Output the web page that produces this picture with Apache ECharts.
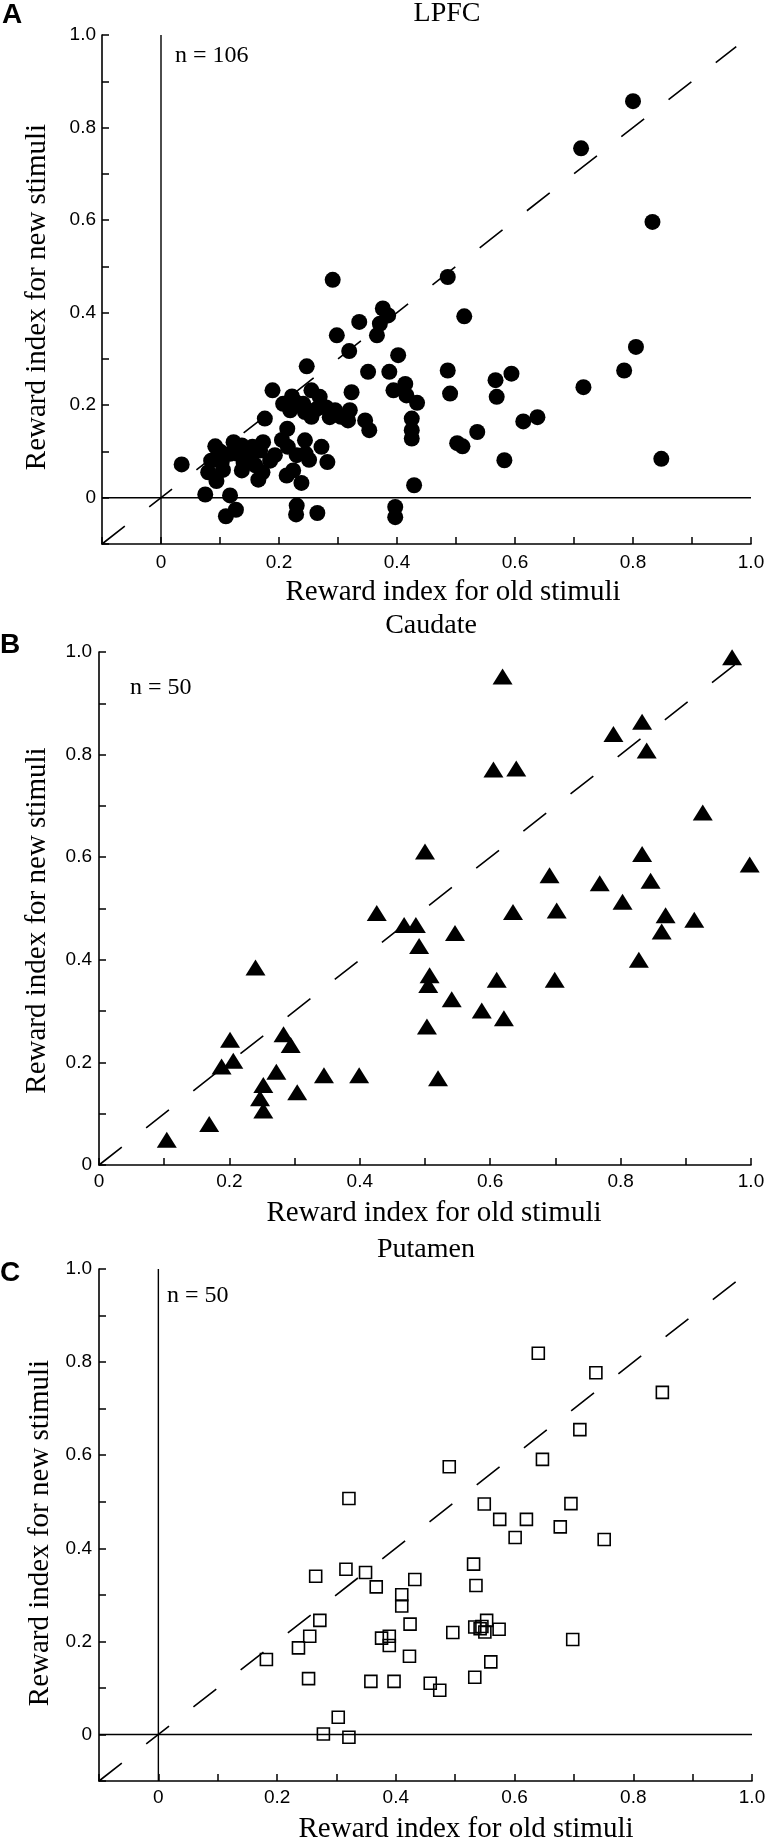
<!DOCTYPE html>
<html><head><meta charset="utf-8">
<script src="https://cdn.jsdelivr.net/npm/echarts@6/dist/echarts.min.js"></script>
<style>html,body{margin:0;padding:0;background:#fff}#c{width:766px;height:1843px}</style>
</head><body><div id="c"></div>
<script>
// ---- Panel A: LPFC (n = 106) ----
const lpfcOld = [0.035,0.075,0.110,0.127,0.117,0.094,0.080,0.092,0.092,0.103,0.123,0.137,0.117,0.137,0.151,0.165,0.172,0.173,0.168,0.193,
  0.176,0.189,0.205,0.214,0.213,0.224,0.238,0.230,0.244,0.251,0.272,0.282,0.230,0.229,0.265,0.247,0.207,0.222,0.219,0.241,
  0.255,0.269,0.244,0.264,0.286,0.295,0.320,0.323,0.317,0.346,0.353,0.298,0.319,0.336,0.376,0.385,0.371,0.366,0.351,0.402,
  0.387,0.394,0.414,0.416,0.434,0.425,0.425,0.425,0.429,0.397,0.397,0.486,0.490,
  0.291,0.486,0.712,0.800,0.833,
  0.514,0.502,0.511,0.536,0.582,0.567,0.569,0.594,0.614,0.638,0.716,0.785,0.805,0.848,
  0.100,0.085,0.130,0.105,0.155,0.160,0.185,0.215,0.245,0.280,0.305,0.255,0.230,0.140];
const lpfcNew = [0.072,0.007,-0.040,-0.026,0.005,0.036,0.055,0.111,0.084,0.077,0.120,0.113,0.095,0.059,0.088,0.039,0.055,0.120,0.102,0.092,
  0.171,0.232,0.125,0.149,0.048,0.059,0.032,0.092,0.124,0.082,0.110,0.077,-0.017,-0.036,-0.033,0.284,0.203,0.219,0.189,0.203,
  0.232,0.218,0.185,0.192,0.174,0.189,0.189,0.228,0.167,0.167,0.146,0.351,0.317,0.380,0.409,0.394,0.376,0.351,0.272,0.308,
  0.272,0.232,0.246,0.221,0.205,0.171,0.146,0.128,0.027,-0.020,-0.042,0.275,0.225,
  0.471,0.477,0.755,0.857,0.596,
  0.392,0.118,0.111,0.142,0.081,0.254,0.218,0.268,0.165,0.174,0.239,0.275,0.326,0.084,
  0.100,0.080,0.095,0.060,0.110,0.070,0.080,0.110,0.095,0.195,0.175,0.175,0.205,0.075];

// ---- Panel B: Caudate (n = 50) ----
const caudateOld = [0.104,0.169,0.188,0.201,0.206,0.240,0.252,0.247,0.252,0.272,0.283,0.294,0.304,0.345,0.399,0.426,0.468,0.486,0.491,0.500,
  0.507,0.505,0.503,0.520,0.971,0.619,0.833,0.789,0.840,0.605,0.640,0.926,0.833,0.998,0.691,0.768,0.846,0.803,0.635,0.702,
  0.869,0.913,0.863,0.546,0.828,0.610,0.699,0.541,0.587,0.621];
const caudateNew = [0.049,0.080,0.192,0.244,0.203,0.385,0.156,0.130,0.106,0.182,0.255,0.234,0.142,0.175,0.175,0.491,0.468,0.468,0.427,0.611,
  0.370,0.351,0.270,0.169,0.990,0.952,0.864,0.840,0.808,0.771,0.773,0.687,0.606,0.586,0.565,0.549,0.554,0.513,0.493,0.496,
  0.487,0.478,0.455,0.452,0.400,0.361,0.361,0.323,0.301,0.286];

// ---- Panel C: Putamen (n = 50) ----
const putamenOld = [0.490,0.321,0.549,0.575,0.620,0.601,0.531,0.535,0.265,0.316,0.349,0.367,0.432,0.410,0.410,0.272,0.255,0.236,0.182,0.253,
  0.424,0.376,0.389,0.389,0.496,0.533,0.542,0.553,0.550,0.574,0.423,0.560,0.533,0.358,0.397,0.458,0.474,0.303,0.278,0.321,
  0.640,0.737,0.849,0.710,0.647,0.695,0.677,0.751,0.698,0.545];
const putamenNew = [0.575,0.507,0.495,0.462,0.462,0.423,0.366,0.320,0.340,0.355,0.348,0.317,0.333,0.300,0.276,0.245,0.211,0.186,0.161,0.120,
  0.237,0.207,0.211,0.191,0.219,0.231,0.227,0.245,0.220,0.226,0.168,0.156,0.123,0.114,0.114,0.110,0.095,0.037,0.001,-0.006,
  0.819,0.777,0.735,0.655,0.591,0.496,0.446,0.419,0.204,0.232];

// reference lines (unity diagonal and zero lines)
const diagAC = [[-0.1,-0.1],[0.975,0.975]];
const diagB = [[0,0],[0.975,0.975]];
const zeroV = [[0,-0.1],[0,1.0]];
const zeroH = [[-0.1,0],[1.0,0]];

const titles = ['LPFC','Caudate','Putamen'];
const nLabels = ['n = 106','n = 50','n = 50'];
const xName = 'Reward index for old stimuli';
const yName = 'Reward index for new stimuli';

const pair = (xs, ys) => xs.map((x, i) => [x, ys[i]]);
const fmt = v => { const r = Math.round(v * 10); if (r < 0 || r % 2) return ''; return r === 0 ? '0' : (r / 10).toFixed(1); };
const SERIF = '"Liberation Serif","Times New Roman",serif';
const SANS = '"Liberation Sans",Arial,sans-serif';

function axis(idx, min, isX, labMargin, nameGap, pad) {
  return {
    type: 'value', gridIndex: idx, min: min, max: 1.0, interval: 0.1,
    axisLine: { show: true, onZero: false, lineStyle: { color: '#000', width: 1.6 } },
    axisTick: { show: true, inside: true, length: 7, lineStyle: { color: '#000', width: 1.5 } },
    axisLabel: { formatter: fmt, color: '#000', fontFamily: SANS, fontSize: 19, margin: labMargin, showMinLabel: true, showMaxLabel: true },
    splitLine: { show: false },
    name: isX ? xName : yName, nameLocation: 'middle', nameGap: nameGap, nameMoveOverlap: false,
    nameTextStyle: { fontFamily: SERIF, fontSize: 29, color: '#000', padding: pad }
  };
}
function refLine(idx, data, dashed) {
  return { type: 'line', xAxisIndex: idx, yAxisIndex: idx, data: data, symbol: 'none', silent: true, z: 1,
    lineStyle: { color: '#000', width: dashed ? 1.6 : 1.4, type: dashed ? [29, 31] : 'solid' } };
}

const option = {
  animation: false,
  backgroundColor: '#fff',
  grid: [
    { left: 102, top: 35, width: 649, height: 509, outerBoundsMode: 'none', containLabel: false },
    { left: 99, top: 652, width: 652, height: 513, outerBoundsMode: 'none', containLabel: false },
    { left: 99, top: 1269, width: 653, height: 512, outerBoundsMode: 'none', containLabel: false }
  ],
  xAxis: [
    axis(0, -0.1, true, 9, 34, [0, 0, 0, 53]),
    axis(1, 0, true, 7, 34, [0, 0, 0, 18]),
    axis(2, -0.1, true, 7, 34, [0, 0, 0, 81])
  ],
  yAxis: [
    axis(0, -0.1, false, 6, 50, [0, 15, 0, 0]),
    axis(1, 0, false, 7, 47, [0, 24, 0, 0]),
    axis(2, -0.1, false, 7, 44, [0, 16, 0, 0])
  ],
  series: [
    refLine(0, zeroV, false), refLine(0, zeroH, false), refLine(0, diagAC, true),
    refLine(1, diagB, true),
    refLine(2, zeroV, false), refLine(2, zeroH, false), refLine(2, diagAC, true),
    { type: 'scatter', xAxisIndex: 0, yAxisIndex: 0, data: pair(lpfcOld, lpfcNew), symbol: 'circle', symbolSize: 16,
      itemStyle: { color: '#000', opacity: 1 }, z: 3 },
    { type: 'scatter', xAxisIndex: 1, yAxisIndex: 1, data: pair(caudateOld, caudateNew), symbol: 'triangle', symbolSize: [20, 16],
      itemStyle: { color: '#000', opacity: 1 }, z: 3 },
    { type: 'scatter', xAxisIndex: 2, yAxisIndex: 2, data: pair(putamenOld, putamenNew), symbol: 'rect', symbolSize: 12,
      itemStyle: { color: 'rgba(0,0,0,0)', borderColor: '#000', borderWidth: 1.6, opacity: 1 }, z: 3 }
  ],
  graphic: [
    { type: 'text', x: 447, y: 14, style: { text: titles[0], font: '28px ' + SERIF, fill: '#000', align: 'center', verticalAlign: 'middle' } },
    { type: 'text', x: 431, y: 626, style: { text: titles[1], font: '28px ' + SERIF, fill: '#000', align: 'center', verticalAlign: 'middle' } },
    { type: 'text', x: 426, y: 1250, style: { text: titles[2], font: '28px ' + SERIF, fill: '#000', align: 'center', verticalAlign: 'middle' } },
    { type: 'text', x: 175, y: 56, style: { text: nLabels[0], font: '24px ' + SERIF, fill: '#000', align: 'left', verticalAlign: 'middle' } },
    { type: 'text', x: 130, y: 688, style: { text: nLabels[1], font: '24px ' + SERIF, fill: '#000', align: 'left', verticalAlign: 'middle' } },
    { type: 'text', x: 167, y: 1296, style: { text: nLabels[2], font: '24px ' + SERIF, fill: '#000', align: 'left', verticalAlign: 'middle' } },
    { type: 'text', x: 2, y: 15, style: { text: 'A', font: 'bold 28px ' + SANS, fill: '#000', align: 'left', verticalAlign: 'middle' } },
    { type: 'text', x: 0, y: 645, style: { text: 'B', font: 'bold 28px ' + SANS, fill: '#000', align: 'left', verticalAlign: 'middle' } },
    { type: 'text', x: 0, y: 1273, style: { text: 'C', font: 'bold 28px ' + SANS, fill: '#000', align: 'left', verticalAlign: 'middle' } }
  ]
};
const chart = echarts.init(document.getElementById('c'), null, { renderer: 'canvas', width: 766, height: 1843 });
chart.setOption(option);
</script>
</body></html>
